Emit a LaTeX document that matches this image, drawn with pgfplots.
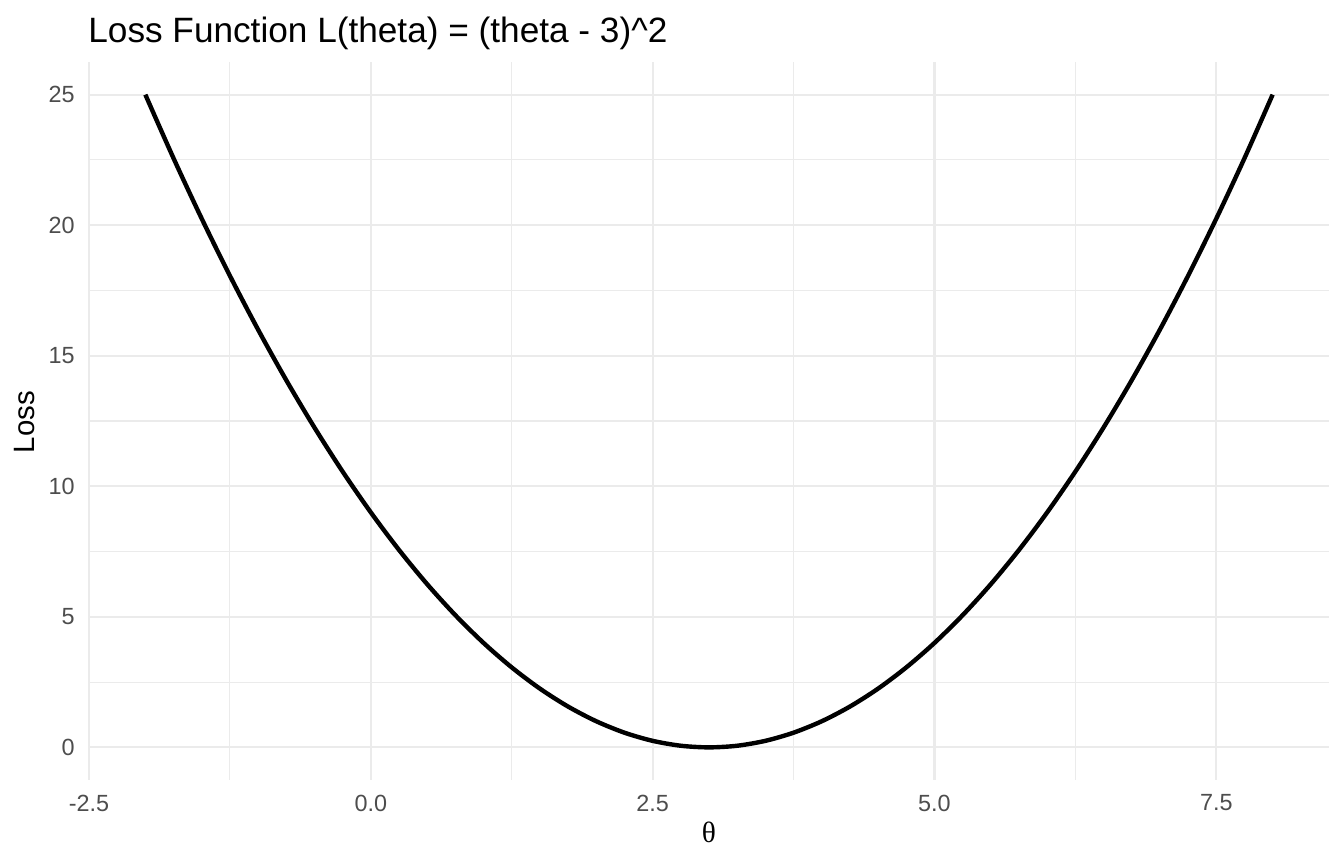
\documentclass[border=0pt]{standalone}
\usepackage{pgfplots}
\pgfplotsset{compat=1.18}
\usepackage{fontspec}
\setmainfont{Liberation Sans}
\newfontfamily\seriftheta{Liberation Serif}
\definecolor{gridc}{HTML}{EBEBEB}
\definecolor{tickc}{HTML}{4D4D4D}
\begin{document}
\begin{tikzpicture}
\path[use as bounding box] (0pt,0pt) rectangle (672pt,432pt);
\begin{axis}[
  at={(44.5pt,42pt)}, anchor=south west,
  scale only axis, width=620pt, height=359pt,
  xmin=-2.5, xmax=8.5, ymin=-1.25, ymax=26.25,
  axis line style={draw=none},
  major tick length=0pt, minor tick length=0pt,
  xtick={-2.5,0,2.5,5,7.5},
  xticklabels={-2.5,0.0,2.5,5.0,7.5},
  ytick={0,5,10,15,20,25},
  yticklabels={0,5,10,15,20,25},
  minor xtick={-1.25,1.25,3.75,6.25},
  minor ytick={2.5,7.5,12.5,17.5,22.5},
  grid=both,
  major grid style={draw=gridc, line width=1.1pt},
  minor grid style={draw=gridc, line width=0.55pt},
  tick label style={font=\fontsize{11.7}{13}\selectfont, text=tickc, inner sep=0pt},
  xticklabel style={anchor=center, yshift=-11.5pt},
  yticklabel style={anchor=east, xshift=-7pt},
  clip=false,
]
\addplot[black, line width=2.2pt, smooth] coordinates {
(-2,25) (-1.75,22.5625) (-1.5,20.25) (-1.25,18.0625) (-1,16) (-0.75,14.0625)
(-0.5,12.25) (-0.25,10.5625) (0,9) (0.25,7.5625) (0.5,6.25) (0.75,5.0625)
(1,4) (1.25,3.0625) (1.5,2.25) (1.75,1.5625) (2,1) (2.25,0.5625) (2.5,0.25)
(2.75,0.0625) (3,0) (3.25,0.0625) (3.5,0.25) (3.75,0.5625) (4,1) (4.25,1.5625)
(4.5,2.25) (4.75,3.0625) (5,4) (5.25,5.0625) (5.5,6.25) (5.75,7.5625) (6,9)
(6.25,10.5625) (6.5,12.25) (6.75,14.0625) (7,16) (7.25,18.0625) (7.5,20.25)
(7.75,22.5625) (8,25)
};
\end{axis}
\node[anchor=base west, inner sep=0pt, font=\fontsize{17.6}{20}\selectfont] at (44pt,410.5pt) {Loss Function L(theta) = (theta - 3)\^{}2};
\node[rotate=90, inner sep=0pt, font=\fontsize{14.7}{17}\selectfont] at (12.5pt,221pt) {Loss};
\node[inner sep=0pt, font=\seriftheta\fontsize{14.7}{17}\selectfont] at (354.5pt,16pt) {θ};
\end{tikzpicture}
\end{document}
